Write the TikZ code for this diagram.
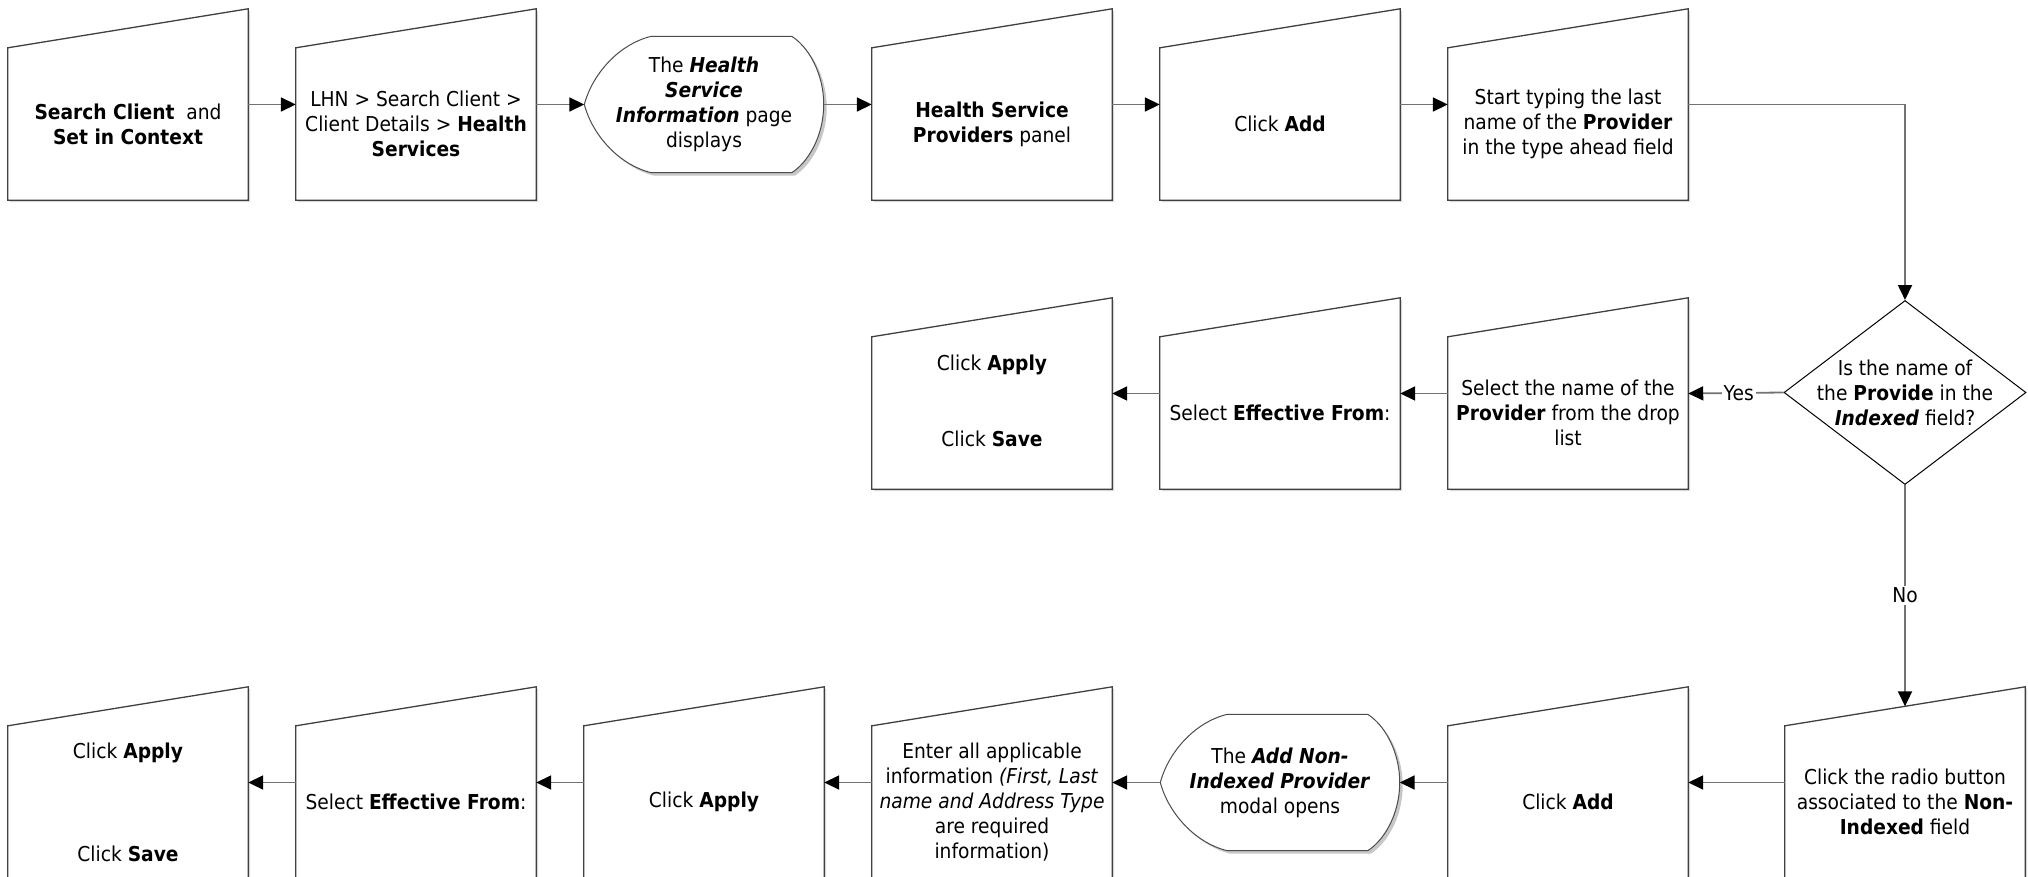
\documentclass[tikz,border=0pt]{standalone}
\usepackage{fontspec}
\setmainfont{DejaVu Sans}[FakeStretch=0.91]
\usetikzlibrary{arrows.meta,shadows,shapes.geometric}
\pgfdeclarelayer{background}
\pgfsetlayers{background,main}
\newcommand\tf{\fontsize{20.5}{25}\selectfont}
\newcommand\slantbox[1]{\path[boxshape] (#1.south west) -- (#1.south east) -- ([yshift=39pt]#1.north east) -- (#1.north west) -- cycle;}
\newcommand\dispshape[1]{\path[dispstyle] (#1.west) .. controls ([xshift=8pt,yshift=30pt]#1.west) and ([xshift=34pt,yshift=-8pt]#1.north west) .. ([xshift=67pt]#1.north west) -- ([xshift=-32pt]#1.north east) .. controls ([xshift=-16pt,yshift=-10pt]#1.north east) and ([yshift=32pt]#1.east) .. (#1.east) .. controls ([yshift=-32pt]#1.east) and ([xshift=-16pt,yshift=10pt]#1.south east) .. ([xshift=-32pt]#1.south east) -- ([xshift=67pt]#1.south west) .. controls ([xshift=34pt,yshift=8pt]#1.south west) and ([xshift=8pt,yshift=-30pt]#1.west) .. (#1.west) -- cycle;}
\begin{document}
\begin{tikzpicture}[x=1pt,y=-1pt,
  txt/.style={font=\tf, align=center, inner sep=0pt},
  stepbox/.style={txt, minimum width=240pt, minimum height=152pt},
  disp/.style={txt, minimum width=239pt, minimum height=136pt},
  boxshape/.style={draw=black!75, line width=1.3pt, fill=white, drop shadow={shadow xshift=2pt, shadow yshift=-2pt, fill=black!15, opacity=1}},
  dispstyle/.style={draw=black!70, line width=1pt, fill=white, drop shadow={shadow xshift=3pt, shadow yshift=-3pt, fill=black!22, opacity=1}},
  conn/.style={draw=black!55, line width=1.8pt, -{Triangle[length=15pt,width=14pt,color=black]}},
  lbl/.style={font=\tf, fill=white, inner sep=2pt}]
\useasboundingbox (0,0) rectangle (2028,877);
\begin{pgfonlayer}{background}
\fill[white] (0,0) rectangle (2028,877);
\end{pgfonlayer}

% Row 1
\node[stepbox] (a1) at (128,124) {\textbf{Search Client}\ \ and\\\textbf{Set in Context}};
\node[stepbox] (a2) at (416,124) {LHN > Search Client >\\Client Details > \textbf{Health}\\\textbf{Services}};
\node[disp] (a3) at (704,104.5) {The \textbf{\textit{Health}}\\\textbf{\textit{Service}}\\\textbf{\textit{Information}} page\\displays};
\node[stepbox] (a4) at (992,124) {\textbf{Health Service}\\\textbf{Providers} panel};
\node[stepbox] (a5) at (1280,124) {Click \textbf{Add}};
\node[stepbox] (a6) at (1568,124) {Start typing the last\\name of the \textbf{Provider}\\in the type ahead field};

% Decision
\node[diamond, draw=black, line width=1pt, fill=white, minimum width=242pt, minimum height=184pt, inner sep=0pt,
  label={[txt]center:{Is the name of\\the \textbf{Provide} in the\\\textbf{\textit{Indexed}} field?}}] (q) at (1905,392.5) {};

% Row 2
\node[stepbox] (b1) at (1568,413) {Select the name of the\\\textbf{Provider} from the drop\\list};
\node[stepbox] (b2) at (1280,413) {Select \textbf{Effective From}:};
\node[stepbox] (b3) at (992,413) {Click \textbf{Apply}\\[51pt]Click \textbf{Save}\\\mbox{}};

% Row 3
\node[stepbox] (c1) at (1905,802) {Click the radio button\\associated to the \textbf{Non-}\\\textbf{Indexed} field};
\node[stepbox] (c2) at (1568,802) {Click \textbf{Add}};
\node[disp] (c3) at (1280,782.5) {The \textbf{\textit{Add Non-}}\\\textbf{\textit{Indexed Provider}}\\modal opens};
\node[stepbox] (c4) at (992,802) {Enter all applicable\\information \textit{(First, Last}\\\textit{name and Address Type}\\are required\\information)};
\node[stepbox] (c5) at (704,802) {Click \textbf{Apply}};
\node[stepbox] (c6) at (416,802) {Select \textbf{Effective From}:};
\node[stepbox] (c7) at (128,802) {Click \textbf{Apply}\\[78pt]Click \textbf{Save}};

\begin{pgfonlayer}{background}
\slantbox{a1}\slantbox{a2}\slantbox{a4}\slantbox{a5}\slantbox{a6}
\slantbox{b1}\slantbox{b2}\slantbox{b3}
\slantbox{c1}\slantbox{c2}\slantbox{c4}\slantbox{c5}\slantbox{c6}\slantbox{c7}
\dispshape{a3}\dispshape{c3}
\end{pgfonlayer}

% Connectors row 1
\draw[conn] ([yshift=19.5pt]a1.east) -- ([yshift=19.5pt]a2.west);
\draw[conn] ([yshift=19.5pt]a2.east) -- (a3.west);
\draw[conn] (a3.east) -- ([yshift=19.5pt]a4.west);
\draw[conn] ([yshift=19.5pt]a4.east) -- ([yshift=19.5pt]a5.west);
\draw[conn] ([yshift=19.5pt]a5.east) -- ([yshift=19.5pt]a6.west);
\draw[conn] ([yshift=19.5pt]a6.east) -| (q.north);
% Decision branches
\draw[conn] (q.west) -- node[lbl, pos=0.47] {Yes} ([yshift=19.5pt]b1.east);
\draw[conn] (q.south) -- node[lbl, pos=0.5] {No} ([yshift=19.5pt]c1.north);
% Row 2
\draw[conn] ([yshift=19.5pt]b1.west) -- ([yshift=19.5pt]b2.east);
\draw[conn] ([yshift=19.5pt]b2.west) -- ([yshift=19.5pt]b3.east);
% Row 3
\draw[conn] ([yshift=19.5pt]c1.west) -- ([yshift=19.5pt]c2.east);
\draw[conn] ([yshift=19.5pt]c2.west) -- (c3.east);
\draw[conn] (c3.west) -- ([yshift=19.5pt]c4.east);
\draw[conn] ([yshift=19.5pt]c4.west) -- ([yshift=19.5pt]c5.east);
\draw[conn] ([yshift=19.5pt]c5.west) -- ([yshift=19.5pt]c6.east);
\draw[conn] ([yshift=19.5pt]c6.west) -- ([yshift=19.5pt]c7.east);
\end{tikzpicture}
\end{document}
